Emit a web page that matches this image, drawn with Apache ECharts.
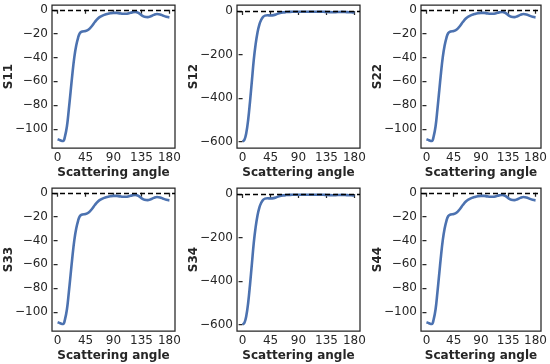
<!DOCTYPE html>
<html>
<head>
<meta charset="utf-8">
<script src="https://cdn.jsdelivr.net/npm/echarts@6/dist/echarts.min.js"></script>
<style>
html,body{margin:0;padding:0;background:#fff;}
#chart{width:550px;height:364px;}
</style>
</head>
<body>
<div id="chart"></div>
<script>
const angles = [0,3,6,9,12,15,18,21,24,27,30,33,36,40,45,50,55,60,65,70,75,80,85,90,95,100,105,110,115,120,125,130,135,140,145,150,155,160,165,170,175,180];
const s11 = [-108.6,-109.2,-109.9,-110.1,-106,-98,-84,-68.5,-53,-39.5,-30,-23.5,-19.5,-18.2,-17.8,-16.5,-13.8,-10.3,-7.3,-5.5,-4.3,-3.5,-2.9,-2.6,-2.6,-3.0,-3.4,-3.4,-2.9,-2.2,-1.8,-2.6,-4.5,-5.9,-6.2,-5.4,-4.3,-3.6,-3.9,-5.0,-5.9,-6.4];
const s12 = [-600,-592,-560,-500,-415,-320,-225,-152,-98,-62,-40,-27,-21,-19.5,-20,-18.5,-14,-9,-6,-4.5,-3.8,-3.2,-3,-2.8,-2.8,-3,-3.2,-3.2,-3,-2.8,-2.8,-3.2,-4.2,-5,-5.2,-4.8,-4.2,-3.8,-4.2,-5,-5.6,-6];
const s22 = s11.slice();
const s33 = s11.slice();
const s34 = s12.slice();
const s44 = s11.slice();
const xTicks = [0,45,90,135,180];
const yTicksSmall = [0,-20,-40,-60,-80,-100];
const yTicksLarge = [0,-200,-400,-600];

const panels = [
  {name:'S11', data:s11, ticks:yTicksSmall, min:-116, max:4},
  {name:'S12', data:s12, ticks:yTicksLarge, min:-630, max:28},
  {name:'S22', data:s22, ticks:yTicksSmall, min:-116, max:4},
  {name:'S33', data:s33, ticks:yTicksSmall, min:-116, max:4},
  {name:'S34', data:s34, ticks:yTicksLarge, min:-630, max:28},
  {name:'S44', data:s44, ticks:yTicksSmall, min:-116, max:4}
];

const lefts = [52, 237, 421];
const tops = [5, 188];
const W = 123, H = 143;
const ink = '#262626';
const font = 'DejaVu Sans';
const fmt = v => String(v).replace('-', '\u2212');

const grid = [], xAxis = [], yAxis = [], series = [];
panels.forEach((p, i) => {
  const r = Math.floor(i / 3), c = i % 3;
  grid.push({left: lefts[c], top: tops[r], width: W, height: H, show: true,
    borderColor: ink, borderWidth: 1.25, backgroundColor: 'transparent', containLabel: false});
  xAxis.push({type: 'value', gridIndex: i, min: -9, max: 189,
    name: 'Scattering angle', nameLocation: 'middle', nameGap: 19, nameMoveOverlap: false,
    nameTextStyle: {fontFamily: font, fontWeight: 'bold', fontSize: 12, color: ink},
    axisLine: {show: false}, splitLine: {show: false},
    axisTick: {show: true, length: 4, lineStyle: {color: ink, width: 1.25}, customValues: xTicks},
    axisLabel: {fontFamily: font, fontSize: 12, color: ink, margin: 4, customValues: xTicks, formatter: fmt}
  });
  yAxis.push({type: 'value', gridIndex: i, min: p.min, max: p.max,
    name: p.name, nameLocation: 'middle', nameGap: 37, nameRotate: 90, nameMoveOverlap: false,
    nameTextStyle: {fontFamily: font, fontWeight: 'bold', fontSize: 12, color: ink},
    axisLine: {show: false}, splitLine: {show: false},
    axisTick: {show: true, length: 4, lineStyle: {color: ink, width: 1.25}, customValues: p.ticks},
    axisLabel: {fontFamily: font, fontSize: 12, color: ink, margin: 4, customValues: p.ticks, formatter: fmt}
  });
  series.push({type: 'line', xAxisIndex: i, yAxisIndex: i,
    data: angles.map((a, k) => [a, p.data[k]]),
    smooth: 0.4, showSymbol: false, symbol: 'none',
    lineStyle: {color: '#4c72b0', width: 2.6}, animation: false, z: 3,
    markLine: {silent: true, symbol: ['none', 'none'], label: {show: false},
      lineStyle: {color: '#000', type: [5, 3], width: 1.4}, animation: false,
      data: [{yAxis: 0}]}
  });
});

const chart = echarts.init(document.getElementById('chart'), null, {renderer: 'canvas'});
chart.setOption({animation: false, backgroundColor: '#fff', grid, xAxis, yAxis, series});
</script>
</body>
</html>
